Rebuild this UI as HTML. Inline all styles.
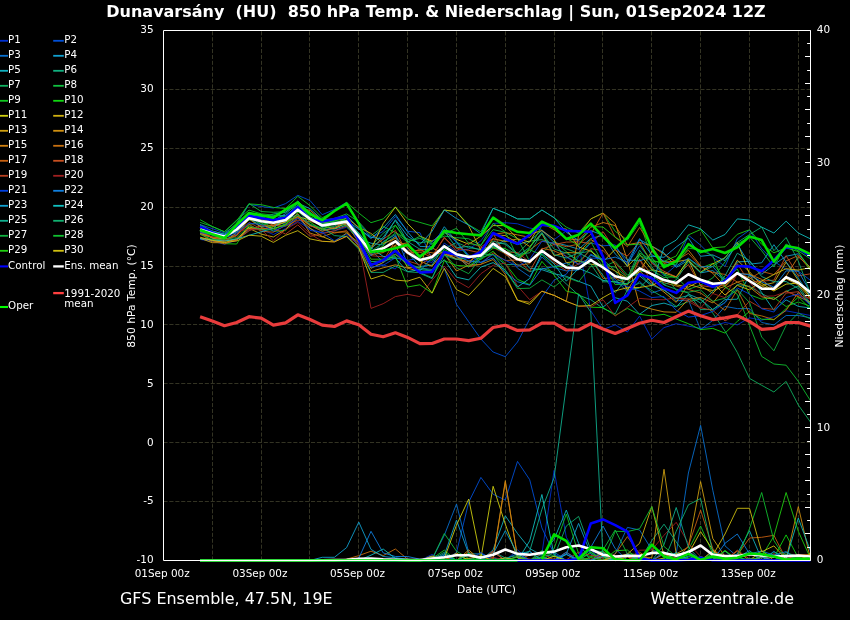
<!DOCTYPE html>
<html lang="de"><head><meta charset="utf-8"><title>GFS Ensemble Dunavarsány</title>
<style>html,body{margin:0;padding:0;background:#000;overflow:hidden}svg{display:block;will-change:transform}text{font-family:"DejaVu Sans","Liberation Sans",sans-serif;fill:#fff}.lg{font-size:10.3px}.tk{font-size:10.45px}.ax{font-size:10.45px}.ay{font-size:10.75px}.ttl{font-size:16px;font-weight:bold}.ft{font-size:15.95px}.m{fill:none;stroke-width:.88;stroke-linejoin:round}.k{fill:none;stroke-width:2.6;stroke-linejoin:round;stroke-linecap:butt}.g{stroke:#333323;stroke-width:1;stroke-dasharray:4.1 1.8;fill:none}</style></head><body>
<svg width="850" height="620" viewBox="0 0 850 620">
<rect width="850" height="620" fill="#000"/>
<g class="g">
<line x1="212.5" y1="560.5" x2="212.5" y2="30.4"/>
<line x1="261.5" y1="560.5" x2="261.5" y2="30.4"/>
<line x1="309.5" y1="560.5" x2="309.5" y2="30.4"/>
<line x1="358.5" y1="560.5" x2="358.5" y2="30.4"/>
<line x1="407.5" y1="560.5" x2="407.5" y2="30.4"/>
<line x1="456.5" y1="560.5" x2="456.5" y2="30.4"/>
<line x1="505.5" y1="560.5" x2="505.5" y2="30.4"/>
<line x1="554.5" y1="560.5" x2="554.5" y2="30.4"/>
<line x1="602.5" y1="560.5" x2="602.5" y2="30.4"/>
<line x1="651.5" y1="560.5" x2="651.5" y2="30.4"/>
<line x1="700.5" y1="560.5" x2="700.5" y2="30.4"/>
<line x1="749.5" y1="560.5" x2="749.5" y2="30.4"/>
<line x1="798.5" y1="560.5" x2="798.5" y2="30.4"/>
<line x1="163.5" y1="501.5" x2="810.5" y2="501.5"/>
<line x1="163.5" y1="442.5" x2="810.5" y2="442.5"/>
<line x1="163.5" y1="383.5" x2="810.5" y2="383.5"/>
<line x1="163.5" y1="324.5" x2="810.5" y2="324.5"/>
<line x1="163.5" y1="266.5" x2="810.5" y2="266.5"/>
<line x1="163.5" y1="207.5" x2="810.5" y2="207.5"/>
<line x1="163.5" y1="148.5" x2="810.5" y2="148.5"/>
<line x1="163.5" y1="89.5" x2="810.5" y2="89.5"/>
</g>
<defs><clipPath id="c"><rect x="163.5" y="30.4" width="647.0" height="532.1"/></clipPath></defs>
<g clip-path="url(#c)">
<g class="m">
<polyline stroke="#0030d0" points="200.1,239.4 212.3,241.3 224.5,244.3 236.7,240.3 249.0,229.7 261.2,229.3 273.4,234.5 285.6,228.6 297.8,221.4 310.0,228.9 322.2,232.7 334.4,230.9 346.6,227.2 358.8,239.3 371.0,264.2 383.2,264.8 395.4,269.0 407.6,248.2 419.9,260.1 432.1,262.4 444.3,243.1 456.5,251.4 468.7,249.1 480.9,240.9 493.1,223.5 505.3,222.7 517.5,223.8 529.7,228.1 541.9,229.9 554.1,239.6 566.3,230.9 578.6,243.1 590.8,310.8 603.0,329.6 615.2,324.9 627.4,332.0 639.6,316.1 651.8,339.0 664.0,327.6 676.2,323.7 688.4,326.1 700.6,328.4 712.8,326.1 725.0,322.5 737.3,324.9 749.5,317.8 761.7,320.2 773.9,316.7 786.1,310.8 798.3,313.1 810.5,315.5"/>
<polyline stroke="#0050d8" points="200.1,224.6 212.3,228.6 224.5,233.0 236.7,224.3 249.0,204.3 261.2,206.5 273.4,208.0 285.6,203.6 297.8,195.3 310.0,200.5 322.2,214.7 334.4,209.5 346.6,202.4 358.8,222.6 371.0,237.7 383.2,231.4 395.4,216.5 407.6,231.2 419.9,232.7 432.1,258.9 444.3,268.4 456.5,304.3 468.7,321.7 480.9,339.0 493.1,352.0 505.3,356.7 517.5,342.0 529.7,319.0 541.9,297.1 554.1,280.1 566.3,274.2 578.6,256.6 590.8,243.0 603.0,245.8 615.2,244.9 627.4,264.1 639.6,245.8 651.8,261.3 664.0,275.8 676.2,265.3 688.4,235.2 700.6,245.2 712.8,257.3 725.0,266.4 737.3,238.9 749.5,230.1 761.7,248.8 773.9,261.3 786.1,269.4 798.3,271.1 810.5,280.4"/>
<polyline stroke="#0870d0" points="200.1,226.6 212.3,232.8 224.5,237.4 236.7,234.4 249.0,217.8 261.2,227.0 273.4,225.5 285.6,222.8 297.8,210.2 310.0,224.9 322.2,231.1 334.4,227.3 346.6,223.7 358.8,236.7 371.0,249.4 383.2,262.6 395.4,254.7 407.6,263.6 419.9,267.9 432.1,269.6 444.3,254.0 456.5,258.7 468.7,263.7 480.9,255.9 493.1,246.0 505.3,252.4 517.5,268.2 529.7,276.6 541.9,257.0 554.1,267.6 566.3,270.9 578.6,270.0 590.8,254.2 603.0,260.7 615.2,279.5 627.4,291.7 639.6,281.4 651.8,293.0 664.0,289.0 676.2,300.8 688.4,300.1 700.6,329.6 712.8,320.4 725.0,306.4 737.3,308.6 749.5,308.6 761.7,322.5 773.9,324.9 786.1,315.5 798.3,315.5 810.5,317.8"/>
<polyline stroke="#10a0d0" points="200.1,225.9 212.3,231.0 224.5,234.7 236.7,226.6 249.0,213.2 261.2,221.4 273.4,220.6 285.6,213.7 297.8,203.1 310.0,208.7 322.2,219.6 334.4,220.9 346.6,215.4 358.8,228.5 371.0,238.5 383.2,227.9 395.4,214.5 407.6,231.8 419.9,246.4 432.1,246.9 444.3,226.7 456.5,241.4 468.7,256.1 480.9,254.7 493.1,246.8 505.3,239.9 517.5,244.6 529.7,240.9 541.9,230.5 554.1,242.4 566.3,245.4 578.6,249.2 590.8,238.5 603.0,235.3 615.2,253.9 627.4,265.7 639.6,239.7 651.8,246.1 664.0,252.8 676.2,267.4 688.4,260.3 700.6,272.9 712.8,270.6 725.0,280.9 737.3,261.9 749.5,261.3 761.7,274.3 773.9,264.7 786.1,256.2 798.3,253.8 810.5,268.1"/>
<polyline stroke="#10b0c0" points="200.1,234.0 212.3,237.1 224.5,237.0 236.7,229.2 249.0,218.3 261.2,215.8 273.4,223.7 285.6,219.4 297.8,214.6 310.0,225.2 322.2,229.1 334.4,229.1 346.6,225.3 358.8,238.4 371.0,243.2 383.2,245.0 395.4,236.1 407.6,252.5 419.9,266.5 432.1,265.1 444.3,245.8 456.5,255.7 468.7,267.1 480.9,258.9 493.1,244.1 505.3,243.0 517.5,253.4 529.7,268.3 541.9,269.7 554.1,273.8 566.3,276.3 578.6,281.3 590.8,286.0 603.0,307.1 615.2,297.7 627.4,301.2 639.6,314.3 651.8,305.5 664.0,303.1 676.2,307.0 688.4,294.1 700.6,299.3 712.8,309.6 725.0,299.6 737.3,299.2 749.5,274.7 761.7,292.5 773.9,310.4 786.1,299.9 798.3,306.4 810.5,308.0"/>
<polyline stroke="#10b080" points="200.1,230.4 212.3,238.6 224.5,238.7 236.7,229.0 249.0,217.9 261.2,226.7 273.4,219.8 285.6,216.1 297.8,205.6 310.0,216.9 322.2,222.6 334.4,225.1 346.6,224.3 358.8,242.0 371.0,261.7 383.2,260.8 395.4,258.0 407.6,260.2 419.9,273.2 432.1,278.6 444.3,248.9 456.5,242.5 468.7,257.4 480.9,254.0 493.1,254.6 505.3,264.7 517.5,264.4 529.7,271.7 541.9,268.1 554.1,272.4 566.3,283.9 578.6,295.2 590.8,299.7 603.0,308.4 615.2,313.9 627.4,289.9 639.6,288.0 651.8,275.2 664.0,284.9 676.2,289.2 688.4,293.1 700.6,309.6 712.8,309.5 725.0,302.5 737.3,284.4 749.5,286.4 761.7,293.7 773.9,299.6 786.1,291.5 798.3,285.9 810.5,303.6"/>
<polyline stroke="#10b060" points="200.1,233.6 212.3,233.8 224.5,236.9 236.7,228.8 249.0,220.1 261.2,220.2 273.4,216.5 285.6,210.3 297.8,204.1 310.0,212.3 322.2,223.5 334.4,220.5 346.6,218.3 358.8,233.4 371.0,246.4 383.2,233.2 395.4,225.2 407.6,241.5 419.9,238.3 432.1,244.5 444.3,229.8 456.5,242.3 468.7,247.8 480.9,249.3 493.1,246.4 505.3,248.9 517.5,254.0 529.7,241.1 541.9,239.6 554.1,244.2 566.3,248.8 578.6,253.3 590.8,251.1 603.0,259.6 615.2,270.8 627.4,288.4 639.6,283.1 651.8,290.5 664.0,297.7 676.2,306.4 688.4,301.6 700.6,299.0 712.8,313.1 725.0,331.1 737.3,352.5 749.5,378.4 761.7,385.3 773.9,392.0 786.1,381.4 798.3,405.0 810.5,422.1"/>
<polyline stroke="#10c040" points="200.1,226.9 212.3,231.1 224.5,234.0 236.7,223.1 249.0,203.5 261.2,211.5 273.4,212.3 285.6,211.7 297.8,205.6 310.0,212.3 322.2,220.1 334.4,218.5 346.6,213.9 358.8,221.9 371.0,235.7 383.2,226.5 395.4,232.5 407.6,239.1 419.9,242.8 432.1,241.1 444.3,236.1 456.5,237.6 468.7,238.8 480.9,245.2 493.1,229.6 505.3,232.3 517.5,238.7 529.7,261.3 541.9,253.4 554.1,241.2 566.3,251.6 578.6,261.9 590.8,249.5 603.0,266.9 615.2,261.5 627.4,275.1 639.6,271.6 651.8,270.1 664.0,277.5 676.2,276.5 688.4,289.3 700.6,285.1 712.8,277.9 725.0,262.0 737.3,244.1 749.5,236.9 761.7,250.8 773.9,266.9 786.1,244.0 798.3,250.9 810.5,258.9"/>
<polyline stroke="#10c820" points="200.1,219.7 212.3,226.5 224.5,231.8 236.7,220.8 249.0,203.9 261.2,204.7 273.4,207.4 285.6,208.6 297.8,196.3 310.0,205.6 322.2,217.8 334.4,211.4 346.6,202.4 358.8,213.0 371.0,222.7 383.2,218.9 395.4,207.1 407.6,218.9 419.9,222.4 432.1,225.9 444.3,210.0 456.5,211.8 468.7,224.8 480.9,231.8 493.1,208.3 505.3,213.0 517.5,218.9 529.7,218.9 541.9,210.0 554.1,217.7 566.3,227.1 578.6,233.0 590.8,218.9 603.0,213.0 615.2,231.3 627.4,240.1 639.6,222.5 651.8,257.4 664.0,274.7 676.2,278.0 688.4,258.6 700.6,268.2 712.8,263.3 725.0,279.1 737.3,269.0 749.5,294.7 761.7,299.2 773.9,297.5 786.1,306.5 798.3,302.0 810.5,306.2"/>
<polyline stroke="#10d810" points="200.1,233.2 212.3,240.6 224.5,243.7 236.7,244.0 249.0,224.4 261.2,222.6 273.4,231.3 285.6,230.6 297.8,212.0 310.0,219.1 322.2,221.3 334.4,220.6 346.6,218.8 358.8,234.8 371.0,252.4 383.2,246.0 395.4,225.2 407.6,243.2 419.9,259.1 432.1,260.1 444.3,249.6 456.5,255.5 468.7,255.7 480.9,259.5 493.1,251.2 505.3,263.7 517.5,279.4 529.7,284.7 541.9,261.4 554.1,275.2 566.3,291.1 578.6,293.9 590.8,307.2 603.0,307.6 615.2,315.4 627.4,308.4 639.6,314.3 651.8,315.9 664.0,314.3 676.2,319.0 688.4,323.7 700.6,329.6 712.8,328.4 725.0,333.1 737.3,321.4 749.5,311.5 761.7,319.2 773.9,319.7 786.1,308.6 798.3,297.1 810.5,308.8"/>
<polyline stroke="#d0d010" points="200.1,231.2 212.3,237.7 224.5,240.8 236.7,239.9 249.0,227.0 261.2,229.8 273.4,226.6 285.6,221.9 297.8,216.6 310.0,220.0 322.2,225.8 334.4,228.6 346.6,222.9 358.8,238.6 371.0,249.2 383.2,223.6 395.4,207.1 407.6,223.6 419.9,236.2 432.1,241.3 444.3,232.2 456.5,239.3 468.7,244.2 480.9,236.1 493.1,225.6 505.3,225.6 517.5,238.8 529.7,242.1 541.9,221.5 554.1,228.2 566.3,229.1 578.6,247.0 590.8,251.1 603.0,261.8 615.2,249.3 627.4,266.4 639.6,254.3 651.8,269.6 664.0,272.9 676.2,276.8 688.4,260.1 700.6,272.2 712.8,263.9 725.0,257.7 737.3,242.1 749.5,274.1 761.7,283.3 773.9,291.0 786.1,284.1 798.3,283.1 810.5,297.0"/>
<polyline stroke="#d0b010" points="200.1,238.3 212.3,242.7 224.5,242.7 236.7,238.7 249.0,228.3 261.2,234.1 273.4,237.0 285.6,229.4 297.8,217.8 310.0,228.0 322.2,236.5 334.4,241.5 346.6,233.1 358.8,242.8 371.0,268.3 383.2,262.5 395.4,245.5 407.6,267.5 419.9,268.0 432.1,228.3 444.3,210.0 456.5,211.8 468.7,225.9 480.9,250.4 493.1,234.7 505.3,235.6 517.5,242.8 529.7,234.4 541.9,230.5 554.1,239.5 566.3,262.7 578.6,261.0 590.8,264.3 603.0,265.0 615.2,271.0 627.4,278.6 639.6,271.7 651.8,251.2 664.0,262.0 676.2,261.7 688.4,259.6 700.6,285.9 712.8,293.2 725.0,281.3 737.3,260.2 749.5,271.8 761.7,285.5 773.9,282.7 786.1,262.1 798.3,280.4 810.5,297.3"/>
<polyline stroke="#d0a010" points="200.1,233.4 212.3,237.3 224.5,239.2 236.7,235.5 249.0,219.0 261.2,227.3 273.4,225.2 285.6,221.9 297.8,209.0 310.0,219.0 322.2,222.6 334.4,224.2 346.6,217.9 358.8,227.3 371.0,233.4 383.2,243.5 395.4,238.4 407.6,247.6 419.9,261.0 432.1,266.1 444.3,251.5 456.5,259.5 468.7,255.4 480.9,256.7 493.1,238.7 505.3,241.5 517.5,238.9 529.7,246.5 541.9,233.8 554.1,255.7 566.3,252.5 578.6,253.0 590.8,239.5 603.0,247.1 615.2,264.8 627.4,290.3 639.6,271.0 651.8,282.6 664.0,292.1 676.2,302.3 688.4,284.4 700.6,287.8 712.8,290.6 725.0,286.3 737.3,274.3 749.5,277.7 761.7,286.0 773.9,290.8 786.1,278.8 798.3,285.0 810.5,298.8"/>
<polyline stroke="#d09010" points="200.1,238.5 212.3,240.0 224.5,240.3 236.7,240.0 249.0,228.7 261.2,228.6 273.4,228.7 285.6,224.4 297.8,213.7 310.0,233.1 322.2,236.9 334.4,232.3 346.6,231.9 358.8,246.4 371.0,271.6 383.2,267.8 395.4,264.8 407.6,268.1 419.9,271.7 432.1,271.8 444.3,253.7 456.5,271.0 468.7,265.1 480.9,264.3 493.1,259.5 505.3,274.3 517.5,300.2 529.7,302.3 541.9,291.2 554.1,295.4 566.3,301.3 578.6,235.4 590.8,218.9 603.0,213.0 615.2,223.6 627.4,260.1 639.6,305.4 651.8,309.1 664.0,311.9 676.2,312.3 688.4,299.3 700.6,297.5 712.8,302.9 725.0,288.0 737.3,282.2 749.5,287.1 761.7,296.8 773.9,299.3 786.1,290.9 798.3,296.7 810.5,302.2"/>
<polyline stroke="#d08010" points="200.1,232.1 212.3,237.8 224.5,241.7 236.7,232.7 249.0,217.7 261.2,219.3 273.4,225.3 285.6,220.1 297.8,208.2 310.0,210.3 322.2,220.5 334.4,219.1 346.6,216.2 358.8,240.3 371.0,254.7 383.2,252.6 395.4,245.1 407.6,242.8 419.9,257.8 432.1,248.0 444.3,253.7 456.5,259.2 468.7,261.6 480.9,253.8 493.1,234.4 505.3,232.6 517.5,234.9 529.7,237.4 541.9,223.0 554.1,229.7 566.3,238.8 578.6,239.9 590.8,227.3 603.0,222.5 615.2,225.6 627.4,244.8 639.6,242.4 651.8,246.1 664.0,254.2 676.2,261.9 688.4,250.1 700.6,265.8 712.8,273.3 725.0,286.5 737.3,273.6 749.5,274.2 761.7,279.4 773.9,289.7 786.1,276.1 798.3,256.8 810.5,267.3"/>
<polyline stroke="#c87010" points="200.1,234.4 212.3,237.2 224.5,237.7 236.7,228.6 249.0,217.4 261.2,219.0 273.4,222.5 285.6,221.1 297.8,216.4 310.0,225.3 322.2,231.3 334.4,227.7 346.6,221.3 358.8,236.9 371.0,253.0 383.2,249.3 395.4,237.1 407.6,251.0 419.9,250.6 432.1,252.8 444.3,254.2 456.5,256.4 468.7,264.0 480.9,247.7 493.1,247.4 505.3,253.7 517.5,265.4 529.7,263.7 541.9,248.3 554.1,250.8 566.3,256.3 578.6,264.2 590.8,257.8 603.0,278.4 615.2,277.8 627.4,285.1 639.6,259.7 651.8,274.3 664.0,282.7 676.2,286.0 688.4,289.4 700.6,293.0 712.8,301.4 725.0,310.3 737.3,289.7 749.5,313.5 761.7,315.9 773.9,319.7 786.1,310.3 798.3,292.4 810.5,304.5"/>
<polyline stroke="#c86010" points="200.1,233.3 212.3,242.0 224.5,241.3 236.7,234.9 249.0,224.4 261.2,231.2 273.4,232.2 285.6,225.2 297.8,216.8 310.0,225.8 322.2,228.7 334.4,233.1 346.6,230.6 358.8,246.1 371.0,265.1 383.2,260.8 395.4,240.7 407.6,253.2 419.9,252.1 432.1,257.3 444.3,246.0 456.5,256.6 468.7,266.5 480.9,264.4 493.1,252.7 505.3,260.5 517.5,260.0 529.7,249.9 541.9,241.1 554.1,243.3 566.3,246.7 578.6,244.1 590.8,234.3 603.0,213.0 615.2,237.3 627.4,246.7 639.6,227.4 651.8,247.0 664.0,263.5 676.2,260.5 688.4,253.3 700.6,266.6 712.8,272.5 725.0,274.4 737.3,282.0 749.5,279.0 761.7,271.4 773.9,274.6 786.1,260.9 798.3,255.5 810.5,269.8"/>
<polyline stroke="#c85020" points="200.1,238.0 212.3,240.4 224.5,243.8 236.7,239.9 249.0,230.8 261.2,225.4 273.4,225.3 285.6,226.2 297.8,220.1 310.0,221.6 322.2,223.1 334.4,224.2 346.6,224.8 358.8,241.9 371.0,247.6 383.2,239.3 395.4,230.4 407.6,254.4 419.9,249.1 432.1,256.0 444.3,238.1 456.5,248.5 468.7,250.3 480.9,253.0 493.1,233.6 505.3,254.6 517.5,259.0 529.7,271.4 541.9,249.1 554.1,244.5 566.3,242.1 578.6,241.8 590.8,243.6 603.0,231.6 615.2,250.0 627.4,256.0 639.6,241.9 651.8,263.2 664.0,271.3 676.2,276.9 688.4,264.5 700.6,285.5 712.8,287.2 725.0,284.9 737.3,263.7 749.5,282.6 761.7,281.0 773.9,280.2 786.1,255.7 798.3,275.9 810.5,273.8"/>
<polyline stroke="#b84020" points="200.1,231.4 212.3,237.0 224.5,240.8 236.7,235.8 249.0,222.4 261.2,229.0 273.4,228.4 285.6,234.1 297.8,224.9 310.0,236.4 322.2,233.7 334.4,230.7 346.6,226.0 358.8,238.4 371.0,255.6 383.2,256.9 395.4,254.5 407.6,260.8 419.9,264.9 432.1,256.8 444.3,237.1 456.5,251.0 468.7,242.3 480.9,247.0 493.1,238.5 505.3,252.1 517.5,252.5 529.7,262.3 541.9,250.9 554.1,262.6 566.3,270.6 578.6,263.9 590.8,248.6 603.0,250.6 615.2,262.7 627.4,277.4 639.6,259.1 651.8,283.8 664.0,290.3 676.2,298.3 688.4,298.9 700.6,307.7 712.8,310.4 725.0,320.9 737.3,314.6 749.5,301.2 761.7,308.3 773.9,309.3 786.1,293.1 798.3,291.7 810.5,299.4"/>
<polyline stroke="#a02020" points="200.1,226.9 212.3,234.0 224.5,236.3 236.7,230.7 249.0,229.7 261.2,229.6 273.4,240.8 285.6,229.5 297.8,222.4 310.0,233.8 322.2,241.3 334.4,241.9 346.6,236.6 358.8,243.6 371.0,308.4 383.2,303.7 395.4,296.6 407.6,294.3 419.9,296.6 432.1,280.1 444.3,266.0 456.5,280.8 468.7,287.7 480.9,273.7 493.1,265.3 505.3,263.1 517.5,285.9 529.7,299.7 541.9,291.2 554.1,295.4 566.3,301.3 578.6,306.1 590.8,307.2 603.0,299.6 615.2,316.1 627.4,307.4 639.6,298.4 651.8,299.4 664.0,299.8 676.2,297.5 688.4,301.5 700.6,308.2 712.8,293.5 725.0,297.7 737.3,273.4 749.5,282.2 761.7,296.2 773.9,296.0 786.1,291.9 798.3,295.5 810.5,298.5"/>
<polyline stroke="#0040e0" points="200.1,232.4 212.3,235.0 224.5,235.7 236.7,232.8 249.0,223.1 261.2,224.5 273.4,231.2 285.6,225.8 297.8,218.0 310.0,230.3 322.2,232.7 334.4,240.8 346.6,234.2 358.8,244.7 371.0,267.3 383.2,265.4 395.4,257.8 407.6,260.3 419.9,258.2 432.1,242.1 444.3,229.5 456.5,242.6 468.7,254.9 480.9,262.4 493.1,254.5 505.3,260.2 517.5,266.4 529.7,259.3 541.9,241.3 554.1,243.2 566.3,257.1 578.6,264.3 590.8,258.1 603.0,258.7 615.2,282.5 627.4,286.5 639.6,291.1 651.8,297.6 664.0,296.5 676.2,310.4 688.4,317.1 700.6,315.6 712.8,311.4 725.0,302.6 737.3,287.9 749.5,294.1 761.7,308.8 773.9,312.0 786.1,297.5 798.3,294.0 810.5,305.4"/>
<polyline stroke="#1080e0" points="200.1,226.5 212.3,231.5 224.5,236.5 236.7,232.0 249.0,217.6 261.2,221.2 273.4,222.5 285.6,221.3 297.8,208.8 310.0,218.6 322.2,225.1 334.4,223.4 346.6,222.3 358.8,239.3 371.0,255.8 383.2,241.5 395.4,234.6 407.6,263.8 419.9,270.9 432.1,258.0 444.3,247.0 456.5,256.4 468.7,260.8 480.9,262.4 493.1,257.9 505.3,272.4 517.5,281.7 529.7,285.2 541.9,268.9 554.1,266.7 566.3,263.0 578.6,269.6 590.8,255.3 603.0,259.9 615.2,257.1 627.4,262.2 639.6,238.6 651.8,254.8 664.0,261.1 676.2,266.1 688.4,258.2 700.6,266.9 712.8,266.6 725.0,280.7 737.3,273.3 749.5,274.8 761.7,281.8 773.9,287.1 786.1,270.9 798.3,271.1 810.5,292.5"/>
<polyline stroke="#10a0d0" points="200.1,224.6 212.3,231.5 224.5,234.3 236.7,227.1 249.0,214.8 261.2,216.4 273.4,215.9 285.6,215.5 297.8,205.6 310.0,218.4 322.2,226.8 334.4,224.0 346.6,220.4 358.8,229.1 371.0,237.2 383.2,239.2 395.4,219.7 407.6,236.0 419.9,244.5 432.1,231.2 444.3,210.0 456.5,218.6 468.7,225.0 480.9,233.9 493.1,208.3 505.3,213.0 517.5,218.9 529.7,218.9 541.9,210.0 554.1,217.7 566.3,232.2 578.6,240.5 590.8,230.6 603.0,235.3 615.2,247.5 627.4,259.8 639.6,260.9 651.8,256.2 664.0,257.3 676.2,247.0 688.4,238.1 700.6,256.3 712.8,254.9 725.0,260.6 737.3,244.2 749.5,264.2 761.7,262.8 773.9,244.7 786.1,262.0 798.3,278.1 810.5,296.5"/>
<polyline stroke="#10c0c0" points="200.1,238.6 212.3,240.0 224.5,241.0 236.7,238.8 249.0,235.3 261.2,231.8 273.4,228.3 285.6,216.9 297.8,207.7 310.0,213.3 322.2,224.8 334.4,222.8 346.6,221.5 358.8,233.2 371.0,247.7 383.2,256.4 395.4,258.1 407.6,271.7 419.9,269.6 432.1,270.8 444.3,259.7 456.5,277.2 468.7,279.9 480.9,267.1 493.1,262.6 505.3,270.1 517.5,287.0 529.7,278.5 541.9,253.6 554.1,263.9 566.3,281.2 578.6,268.4 590.8,273.2 603.0,280.4 615.2,282.0 627.4,283.9 639.6,275.8 651.8,286.0 664.0,247.2 676.2,240.1 688.4,224.8 700.6,228.8 712.8,240.1 725.0,234.5 737.3,218.9 749.5,220.1 761.7,227.1 773.9,233.0 786.1,221.2 798.3,233.0 810.5,238.9"/>
<polyline stroke="#10b090" points="200.1,226.6 212.3,233.3 224.5,235.6 236.7,225.6 249.0,215.0 261.2,217.8 273.4,214.0 285.6,212.4 297.8,201.0 310.0,212.7 322.2,224.0 334.4,222.2 346.6,220.1 358.8,233.3 371.0,249.0 383.2,237.1 395.4,220.6 407.6,241.5 419.9,249.2 432.1,249.6 444.3,231.2 456.5,247.8 468.7,246.3 480.9,250.2 493.1,246.8 505.3,252.9 517.5,255.9 529.7,247.4 541.9,232.4 554.1,254.7 566.3,258.0 578.6,252.8 590.8,259.2 603.0,275.4 615.2,292.6 627.4,277.5 639.6,273.7 651.8,284.9 664.0,290.1 676.2,298.6 688.4,295.5 700.6,303.1 712.8,291.4 725.0,275.9 737.3,253.2 749.5,260.5 761.7,276.6 773.9,281.8 786.1,281.5 798.3,288.5 810.5,304.8"/>
<polyline stroke="#10b070" points="200.1,230.9 212.3,233.4 224.5,236.3 236.7,231.0 249.0,217.0 261.2,224.5 273.4,221.9 285.6,217.0 297.8,206.3 310.0,217.5 322.2,227.4 334.4,235.6 346.6,236.6 358.8,249.2 371.0,272.4 383.2,272.4 395.4,266.0 407.6,271.8 419.9,272.6 432.1,277.7 444.3,255.3 456.5,259.6 468.7,257.4 480.9,254.0 493.1,241.1 505.3,244.3 517.5,254.5 529.7,252.8 541.9,233.0 554.1,249.0 566.3,253.1 578.6,260.9 590.8,264.2 603.0,281.9 615.2,281.6 627.4,278.3 639.6,250.2 651.8,266.6 664.0,284.5 676.2,279.9 688.4,261.7 700.6,272.5 712.8,266.3 725.0,257.9 737.3,242.5 749.5,234.6 761.7,227.1 773.9,250.7 786.1,237.5 798.3,261.1 810.5,293.9"/>
<polyline stroke="#10b040" points="200.1,234.4 212.3,239.6 224.5,239.2 236.7,237.6 249.0,225.9 261.2,229.5 273.4,230.0 285.6,223.5 297.8,215.3 310.0,224.2 322.2,228.2 334.4,226.3 346.6,217.2 358.8,238.5 371.0,263.9 383.2,261.0 395.4,253.9 407.6,265.3 419.9,267.6 432.1,271.1 444.3,253.5 456.5,267.7 468.7,273.7 480.9,257.4 493.1,254.2 505.3,270.3 517.5,288.6 529.7,288.2 541.9,279.9 554.1,287.0 566.3,277.4 578.6,281.8 590.8,266.4 603.0,264.9 615.2,267.2 627.4,277.5 639.6,255.6 651.8,260.5 664.0,274.0 676.2,290.2 688.4,292.2 700.6,290.0 712.8,301.3 725.0,298.2 737.3,289.6 749.5,302.5 761.7,337.0 773.9,350.8 786.1,325.4 798.3,313.1 810.5,319.0"/>
<polyline stroke="#10c030" points="200.1,222.4 212.3,226.5 224.5,231.8 236.7,220.1 249.0,210.1 261.2,213.8 273.4,215.1 285.6,216.6 297.8,205.3 310.0,216.8 322.2,223.3 334.4,221.4 346.6,226.2 358.8,239.2 371.0,251.4 383.2,242.6 395.4,233.0 407.6,242.2 419.9,236.4 432.1,243.6 444.3,233.9 456.5,228.3 468.7,243.4 480.9,245.6 493.1,223.4 505.3,231.8 517.5,257.2 529.7,249.9 541.9,254.7 554.1,267.0 566.3,266.1 578.6,255.2 590.8,241.8 603.0,263.3 615.2,284.6 627.4,284.0 639.6,253.1 651.8,259.8 664.0,264.5 676.2,264.3 688.4,248.1 700.6,250.0 712.8,255.8 725.0,287.2 737.3,294.3 749.5,325.4 761.7,356.4 773.9,364.0 786.1,365.2 798.3,381.4 810.5,400.8"/>
<polyline stroke="#20d010" points="200.1,224.8 212.3,231.3 224.5,235.9 236.7,228.1 249.0,214.5 261.2,220.7 273.4,228.5 285.6,225.1 297.8,208.1 310.0,222.1 322.2,230.0 334.4,222.8 346.6,220.7 358.8,236.9 371.0,259.2 383.2,259.2 395.4,256.4 407.6,287.0 419.9,284.8 432.1,293.1 444.3,260.6 456.5,265.4 468.7,266.2 480.9,256.9 493.1,248.2 505.3,248.3 517.5,259.4 529.7,248.4 541.9,225.4 554.1,226.8 566.3,238.1 578.6,245.5 590.8,226.4 603.0,227.1 615.2,237.2 627.4,245.0 639.6,244.0 651.8,261.9 664.0,261.4 676.2,256.0 688.4,234.9 700.6,229.5 712.8,247.8 725.0,246.8 737.3,234.3 749.5,229.8 761.7,244.3 773.9,252.8 786.1,247.9 798.3,251.6 810.5,270.5"/>
<polyline stroke="#d0c010" points="200.1,237.2 212.3,240.4 224.5,242.4 236.7,241.0 249.0,235.2 261.2,236.2 273.4,242.4 285.6,235.3 297.8,230.7 310.0,238.9 322.2,241.3 334.4,241.9 346.6,236.2 358.8,247.9 371.0,279.0 383.2,275.1 395.4,280.1 407.6,281.1 419.9,277.2 432.1,293.1 444.3,268.4 456.5,289.6 468.7,295.4 480.9,282.5 493.1,268.4 505.3,276.6 517.5,300.2 529.7,304.3 541.9,291.2 554.1,295.4 566.3,301.3 578.6,306.1 590.8,305.5 603.0,297.6 615.2,290.8 627.4,287.7 639.6,287.5 651.8,285.4 664.0,279.9 676.2,284.8 688.4,287.2 700.6,280.6 712.8,282.8 725.0,295.0 737.3,285.4 749.5,289.9 761.7,280.9 773.9,274.5 786.1,268.7 798.3,270.1 810.5,267.5"/>
</g>
<g class="m">
<polyline stroke="#0030d0" points="200.1,560.5 212.3,560.5 224.5,560.5 236.7,560.5 249.0,560.5 261.2,560.5 273.4,560.5 285.6,560.5 297.8,560.5 310.0,560.5 322.2,560.5 334.4,560.5 346.6,560.5 358.8,560.5 371.0,560.5 383.2,560.5 395.4,560.5 407.6,560.5 419.9,560.5 432.1,554.4 444.3,560.5 456.5,560.5 468.7,560.5 480.9,559.7 493.1,560.5 505.3,560.5 517.5,549.9 529.7,560.5 541.9,553.9 554.1,470.4 566.3,537.2 578.6,557.8 590.8,560.5 603.0,560.5 615.2,560.5 627.4,553.5 639.6,560.5 651.8,560.5 664.0,560.5 676.2,560.5 688.4,552.3 700.6,560.5 712.8,560.5 725.0,551.2 737.3,560.5 749.5,560.5 761.7,560.5 773.9,560.5 786.1,560.5 798.3,560.5 810.5,560.5"/>
<polyline stroke="#0050d8" points="200.1,560.5 212.3,560.5 224.5,560.5 236.7,560.5 249.0,560.5 261.2,560.5 273.4,560.5 285.6,560.5 297.8,560.5 310.0,560.5 322.2,560.5 334.4,560.5 346.6,560.5 358.8,560.5 371.0,560.5 383.2,560.5 395.4,560.5 407.6,560.5 419.9,560.5 432.1,560.5 444.3,560.5 456.5,552.5 468.7,502.2 480.9,477.4 493.1,494.2 505.3,500.1 517.5,461.4 529.7,479.7 541.9,527.9 554.1,553.9 566.3,560.5 578.6,558.5 590.8,550.2 603.0,560.5 615.2,560.5 627.4,560.5 639.6,560.5 651.8,560.5 664.0,560.5 676.2,560.5 688.4,560.5 700.6,560.5 712.8,560.5 725.0,560.5 737.3,560.5 749.5,560.5 761.7,560.5 773.9,551.3 786.1,560.5 798.3,560.5 810.5,560.5"/>
<polyline stroke="#0870d0" points="200.1,560.5 212.3,560.5 224.5,560.5 236.7,560.5 249.0,560.5 261.2,560.5 273.4,560.5 285.6,560.5 297.8,560.5 310.0,560.5 322.2,560.5 334.4,560.5 346.6,560.5 358.8,560.5 371.0,560.5 383.2,560.5 395.4,560.5 407.6,560.5 419.9,560.5 432.1,559.2 444.3,535.3 456.5,504.0 468.7,552.5 480.9,560.5 493.1,551.6 505.3,560.5 517.5,560.5 529.7,551.3 541.9,560.5 554.1,551.9 566.3,560.5 578.6,556.9 590.8,560.5 603.0,560.5 615.2,553.9 627.4,527.4 639.6,530.0 651.8,549.9 664.0,553.7 676.2,553.9 688.4,473.0 700.6,425.3 712.8,490.3 725.0,545.9 737.3,556.5 749.5,552.7 761.7,560.5 773.9,560.5 786.1,560.5 798.3,560.5 810.5,560.5"/>
<polyline stroke="#10a0d0" points="200.1,560.5 212.3,560.5 224.5,560.5 236.7,560.5 249.0,560.5 261.2,560.5 273.4,560.5 285.6,560.5 297.8,560.5 310.0,560.5 322.2,560.5 334.4,560.5 346.6,560.5 358.8,560.5 371.0,560.5 383.2,560.5 395.4,560.5 407.6,560.5 419.9,560.5 432.1,560.5 444.3,555.2 456.5,520.1 468.7,553.9 480.9,553.9 493.1,557.9 505.3,560.5 517.5,560.5 529.7,559.4 541.9,560.5 554.1,560.5 566.3,553.9 578.6,523.4 590.8,553.9 603.0,560.5 615.2,560.5 627.4,560.5 639.6,560.5 651.8,560.5 664.0,560.5 676.2,560.5 688.4,560.5 700.6,560.5 712.8,560.5 725.0,560.5 737.3,560.5 749.5,560.5 761.7,556.8 773.9,560.5 786.1,560.5 798.3,560.5 810.5,555.7"/>
<polyline stroke="#10b0c0" points="200.1,560.5 212.3,560.5 224.5,560.5 236.7,560.5 249.0,560.5 261.2,560.5 273.4,560.5 285.6,560.5 297.8,560.5 310.0,560.5 322.2,560.5 334.4,560.5 346.6,560.5 358.8,560.5 371.0,560.5 383.2,560.5 395.4,560.5 407.6,560.5 419.9,560.5 432.1,560.5 444.3,553.7 456.5,560.5 468.7,553.6 480.9,560.5 493.1,549.9 505.3,515.8 517.5,533.5 529.7,548.6 541.9,555.2 554.1,539.3 566.3,510.1 578.6,543.3 590.8,560.5 603.0,560.5 615.2,560.5 627.4,560.5 639.6,559.2 651.8,560.5 664.0,560.5 676.2,560.5 688.4,560.5 700.6,560.5 712.8,560.5 725.0,560.5 737.3,553.9 749.5,530.8 761.7,559.2 773.9,560.5 786.1,560.5 798.3,560.5 810.5,560.5"/>
<polyline stroke="#10b080" points="200.1,560.5 212.3,560.5 224.5,560.5 236.7,560.5 249.0,560.5 261.2,560.5 273.4,560.5 285.6,560.5 297.8,560.5 310.0,560.5 322.2,560.5 334.4,560.5 346.6,560.5 358.8,560.5 371.0,560.5 383.2,560.5 395.4,560.5 407.6,560.5 419.9,560.5 432.1,560.5 444.3,560.5 456.5,554.2 468.7,560.5 480.9,560.5 493.1,551.8 505.3,558.0 517.5,560.5 529.7,560.5 541.9,556.6 554.1,560.5 566.3,560.5 578.6,560.5 590.8,560.5 603.0,556.5 615.2,560.5 627.4,560.5 639.6,560.5 651.8,540.6 664.0,524.2 676.2,541.9 688.4,558.6 700.6,560.5 712.8,551.8 725.0,560.5 737.3,557.1 749.5,560.5 761.7,560.5 773.9,560.5 786.1,560.5 798.3,556.9 810.5,560.5"/>
<polyline stroke="#10b060" points="200.1,560.5 212.3,560.5 224.5,560.5 236.7,560.5 249.0,560.5 261.2,560.5 273.4,560.5 285.6,560.5 297.8,560.5 310.0,560.5 322.2,560.5 334.4,560.5 346.6,560.5 358.8,560.5 371.0,560.5 383.2,560.5 395.4,560.5 407.6,560.5 419.9,560.5 432.1,560.5 444.3,560.5 456.5,560.5 468.7,560.5 480.9,560.5 493.1,560.5 505.3,559.8 517.5,560.5 529.7,560.5 541.9,560.5 554.1,560.5 566.3,560.5 578.6,560.5 590.8,552.4 603.0,560.5 615.2,560.5 627.4,560.5 639.6,560.5 651.8,560.5 664.0,559.2 676.2,560.5 688.4,560.5 700.6,560.5 712.8,550.9 725.0,560.5 737.3,560.5 749.5,560.5 761.7,560.5 773.9,560.5 786.1,552.4 798.3,556.9 810.5,560.5"/>
<polyline stroke="#10c040" points="200.1,560.5 212.3,560.5 224.5,560.5 236.7,560.5 249.0,560.5 261.2,560.5 273.4,560.5 285.6,560.5 297.8,560.5 310.0,560.5 322.2,560.5 334.4,560.5 346.6,560.5 358.8,560.5 371.0,560.5 383.2,560.5 395.4,560.5 407.6,560.5 419.9,560.5 432.1,559.2 444.3,533.5 456.5,551.2 468.7,558.5 480.9,560.5 493.1,560.5 505.3,560.5 517.5,560.5 529.7,560.5 541.9,560.5 554.1,560.5 566.3,560.5 578.6,560.5 590.8,560.5 603.0,549.9 615.2,530.0 627.4,553.9 639.6,554.5 651.8,560.5 664.0,552.0 676.2,560.5 688.4,560.5 700.6,560.5 712.8,553.6 725.0,560.5 737.3,557.1 749.5,560.5 761.7,560.5 773.9,560.5 786.1,560.5 798.3,560.5 810.5,559.3"/>
<polyline stroke="#10c820" points="200.1,560.5 212.3,560.5 224.5,560.5 236.7,560.5 249.0,560.5 261.2,560.5 273.4,560.5 285.6,560.5 297.8,560.5 310.0,560.5 322.2,560.5 334.4,560.5 346.6,560.5 358.8,560.5 371.0,560.5 383.2,560.5 395.4,560.5 407.6,560.5 419.9,560.5 432.1,558.6 444.3,550.1 456.5,560.5 468.7,554.8 480.9,560.5 493.1,560.5 505.3,560.5 517.5,560.5 529.7,560.5 541.9,560.5 554.1,548.6 566.3,514.1 578.6,553.9 590.8,556.6 603.0,554.3 615.2,560.5 627.4,560.5 639.6,558.1 651.8,560.5 664.0,560.5 676.2,560.5 688.4,549.9 700.6,526.0 712.8,553.9 725.0,560.5 737.3,560.5 749.5,560.5 761.7,560.5 773.9,560.5 786.1,560.5 798.3,560.5 810.5,560.5"/>
<polyline stroke="#10d810" points="200.1,560.5 212.3,560.5 224.5,560.5 236.7,560.5 249.0,560.5 261.2,560.5 273.4,560.5 285.6,560.5 297.8,560.5 310.0,560.5 322.2,560.5 334.4,560.5 346.6,560.5 358.8,560.5 371.0,560.5 383.2,560.5 395.4,560.5 407.6,560.5 419.9,560.5 432.1,560.5 444.3,560.5 456.5,554.5 468.7,560.5 480.9,555.6 493.1,560.5 505.3,560.5 517.5,560.5 529.7,560.5 541.9,560.5 554.1,560.5 566.3,560.5 578.6,560.5 590.8,551.8 603.0,560.5 615.2,560.5 627.4,560.5 639.6,560.5 651.8,560.5 664.0,560.5 676.2,554.0 688.4,558.4 700.6,560.5 712.8,558.9 725.0,551.1 737.3,559.6 749.5,560.5 761.7,551.4 773.9,557.8 786.1,534.9 798.3,557.8 810.5,560.5"/>
<polyline stroke="#d0d010" points="200.1,560.5 212.3,560.5 224.5,560.5 236.7,560.5 249.0,560.5 261.2,560.5 273.4,560.5 285.6,560.5 297.8,560.5 310.0,560.5 322.2,560.5 334.4,560.5 346.6,560.5 358.8,560.5 371.0,560.5 383.2,560.5 395.4,560.5 407.6,560.5 419.9,560.5 432.1,560.5 444.3,558.5 456.5,525.1 468.7,499.1 480.9,558.5 493.1,486.3 505.3,524.2 517.5,557.8 529.7,560.5 541.9,560.5 554.1,560.5 566.3,552.2 578.6,560.5 590.8,560.5 603.0,552.4 615.2,560.5 627.4,556.6 639.6,560.5 651.8,560.5 664.0,558.1 676.2,553.7 688.4,553.9 700.6,531.6 712.8,549.9 725.0,560.5 737.3,560.5 749.5,560.5 761.7,560.5 773.9,560.5 786.1,560.5 798.3,554.9 810.5,560.5"/>
<polyline stroke="#d0b010" points="200.1,560.5 212.3,560.5 224.5,560.5 236.7,560.5 249.0,560.5 261.2,560.5 273.4,560.5 285.6,560.5 297.8,560.5 310.0,560.5 322.2,560.5 334.4,560.5 346.6,560.5 358.8,560.5 371.0,560.5 383.2,560.5 395.4,560.5 407.6,560.5 419.9,560.5 432.1,560.5 444.3,560.5 456.5,553.0 468.7,560.5 480.9,560.5 493.1,560.5 505.3,560.5 517.5,560.5 529.7,560.5 541.9,558.9 554.1,560.5 566.3,560.5 578.6,560.5 590.8,560.5 603.0,560.5 615.2,557.2 627.4,554.0 639.6,543.3 651.8,506.6 664.0,555.9 676.2,560.5 688.4,553.0 700.6,560.5 712.8,560.5 725.0,560.5 737.3,560.5 749.5,560.5 761.7,560.5 773.9,560.5 786.1,559.6 798.3,560.5 810.5,560.5"/>
<polyline stroke="#d0a010" points="200.1,560.5 212.3,560.5 224.5,560.5 236.7,560.5 249.0,560.5 261.2,560.5 273.4,560.5 285.6,560.5 297.8,560.5 310.0,560.5 322.2,560.5 334.4,560.5 346.6,560.5 358.8,560.5 371.0,560.5 383.2,560.5 395.4,560.5 407.6,560.5 419.9,560.5 432.1,556.3 444.3,560.5 456.5,560.5 468.7,550.0 480.9,560.5 493.1,560.5 505.3,560.5 517.5,560.5 529.7,560.5 541.9,560.5 554.1,560.5 566.3,560.5 578.6,560.5 590.8,560.5 603.0,560.5 615.2,560.5 627.4,560.5 639.6,557.5 651.8,557.8 664.0,469.3 676.2,553.9 688.4,547.2 700.6,481.6 712.8,538.5 725.0,556.5 737.3,560.5 749.5,560.5 761.7,560.5 773.9,560.5 786.1,558.0 798.3,560.5 810.5,552.8"/>
<polyline stroke="#d09010" points="200.1,560.5 212.3,560.5 224.5,560.5 236.7,560.5 249.0,560.5 261.2,560.5 273.4,560.5 285.6,560.5 297.8,560.5 310.0,560.5 322.2,560.5 334.4,560.5 346.6,560.5 358.8,560.5 371.0,560.5 383.2,560.5 395.4,560.5 407.6,560.5 419.9,560.5 432.1,560.5 444.3,560.5 456.5,560.5 468.7,560.5 480.9,560.5 493.1,557.8 505.3,480.6 517.5,557.8 529.7,560.5 541.9,560.5 554.1,558.9 566.3,560.5 578.6,560.5 590.8,560.5 603.0,560.5 615.2,560.5 627.4,556.5 639.6,560.5 651.8,560.5 664.0,554.0 676.2,560.5 688.4,560.5 700.6,560.5 712.8,557.1 725.0,560.5 737.3,551.0 749.5,560.5 761.7,550.5 773.9,560.5 786.1,559.2 798.3,506.6 810.5,559.2"/>
<polyline stroke="#d08010" points="200.1,560.5 212.3,560.5 224.5,560.5 236.7,560.5 249.0,560.5 261.2,560.5 273.4,560.5 285.6,560.5 297.8,560.5 310.0,560.5 322.2,560.5 334.4,560.5 346.6,560.5 358.8,560.5 371.0,560.5 383.2,560.5 395.4,560.5 407.6,560.5 419.9,560.5 432.1,560.5 444.3,560.5 456.5,560.5 468.7,560.5 480.9,560.5 493.1,559.2 505.3,482.3 517.5,556.5 529.7,560.5 541.9,560.5 554.1,560.5 566.3,560.5 578.6,560.5 590.8,560.5 603.0,554.9 615.2,560.5 627.4,560.5 639.6,560.5 651.8,560.5 664.0,553.4 676.2,560.5 688.4,551.0 700.6,560.5 712.8,550.6 725.0,556.5 737.3,560.5 749.5,560.5 761.7,560.5 773.9,560.5 786.1,560.5 798.3,560.5 810.5,559.2"/>
<polyline stroke="#c87010" points="200.1,560.5 212.3,560.5 224.5,560.5 236.7,560.5 249.0,560.5 261.2,560.5 273.4,560.5 285.6,560.5 297.8,560.5 310.0,560.5 322.2,560.5 334.4,560.5 346.6,559.2 358.8,555.6 371.0,551.2 383.2,555.6 395.4,549.0 407.6,559.2 419.9,560.5 432.1,560.5 444.3,560.5 456.5,560.5 468.7,560.5 480.9,560.5 493.1,560.5 505.3,560.5 517.5,560.5 529.7,554.8 541.9,552.2 554.1,560.5 566.3,560.5 578.6,560.5 590.8,560.5 603.0,560.5 615.2,553.9 627.4,536.6 639.6,553.9 651.8,560.5 664.0,560.5 676.2,557.1 688.4,558.7 700.6,560.5 712.8,560.5 725.0,558.0 737.3,560.5 749.5,560.5 761.7,560.5 773.9,560.5 786.1,560.5 798.3,555.9 810.5,554.6"/>
<polyline stroke="#c86010" points="200.1,560.5 212.3,560.5 224.5,560.5 236.7,560.5 249.0,560.5 261.2,560.5 273.4,560.5 285.6,560.5 297.8,560.5 310.0,560.5 322.2,560.5 334.4,560.5 346.6,560.5 358.8,560.5 371.0,560.5 383.2,560.5 395.4,560.5 407.6,560.5 419.9,560.5 432.1,560.5 444.3,557.4 456.5,560.5 468.7,551.9 480.9,560.5 493.1,560.5 505.3,560.5 517.5,560.5 529.7,560.5 541.9,560.5 554.1,560.5 566.3,560.5 578.6,560.5 590.8,560.5 603.0,560.5 615.2,560.5 627.4,560.5 639.6,552.2 651.8,560.5 664.0,560.5 676.2,560.5 688.4,545.9 700.6,510.1 712.8,548.6 725.0,560.5 737.3,555.2 749.5,538.0 761.7,537.3 773.9,535.3 786.1,559.2 798.3,554.6 810.5,554.9"/>
<polyline stroke="#c85020" points="200.1,560.5 212.3,560.5 224.5,560.5 236.7,560.5 249.0,560.5 261.2,560.5 273.4,560.5 285.6,560.5 297.8,560.5 310.0,560.5 322.2,560.5 334.4,560.5 346.6,560.5 358.8,560.5 371.0,560.5 383.2,560.5 395.4,560.5 407.6,560.5 419.9,560.5 432.1,560.5 444.3,560.5 456.5,560.5 468.7,560.5 480.9,560.5 493.1,552.0 505.3,560.5 517.5,556.3 529.7,559.1 541.9,560.5 554.1,560.5 566.3,560.5 578.6,560.5 590.8,560.5 603.0,551.3 615.2,560.5 627.4,560.5 639.6,560.5 651.8,560.5 664.0,560.5 676.2,560.5 688.4,560.5 700.6,560.5 712.8,560.5 725.0,560.5 737.3,560.5 749.5,559.4 761.7,557.8 773.9,554.9 786.1,560.5 798.3,560.5 810.5,560.5"/>
<polyline stroke="#b84020" points="200.1,560.5 212.3,560.5 224.5,560.5 236.7,560.5 249.0,560.5 261.2,560.5 273.4,560.5 285.6,560.5 297.8,560.5 310.0,560.5 322.2,560.5 334.4,560.5 346.6,560.5 358.8,560.5 371.0,560.5 383.2,560.5 395.4,560.5 407.6,560.5 419.9,560.5 432.1,560.5 444.3,560.5 456.5,560.5 468.7,560.5 480.9,560.5 493.1,550.9 505.3,560.5 517.5,560.5 529.7,560.5 541.9,560.5 554.1,560.5 566.3,559.8 578.6,552.1 590.8,555.3 603.0,557.8 615.2,555.8 627.4,559.6 639.6,558.2 651.8,560.5 664.0,559.6 676.2,560.5 688.4,560.5 700.6,560.5 712.8,555.8 725.0,560.5 737.3,550.2 749.5,558.9 761.7,560.5 773.9,553.7 786.1,560.5 798.3,559.3 810.5,560.5"/>
<polyline stroke="#a02020" points="200.1,560.5 212.3,560.5 224.5,560.5 236.7,560.5 249.0,560.5 261.2,560.5 273.4,560.5 285.6,560.5 297.8,560.5 310.0,560.5 322.2,560.5 334.4,560.5 346.6,560.5 358.8,560.5 371.0,560.5 383.2,560.5 395.4,560.5 407.6,560.5 419.9,560.5 432.1,560.5 444.3,560.5 456.5,560.5 468.7,560.5 480.9,560.5 493.1,557.2 505.3,560.5 517.5,560.5 529.7,560.5 541.9,553.1 554.1,560.5 566.3,560.5 578.6,559.5 590.8,558.1 603.0,559.3 615.2,560.5 627.4,560.5 639.6,550.2 651.8,549.9 664.0,535.3 676.2,522.3 688.4,543.3 700.6,556.5 712.8,560.5 725.0,560.5 737.3,560.5 749.5,560.5 761.7,556.8 773.9,560.5 786.1,560.5 798.3,556.9 810.5,560.5"/>
<polyline stroke="#0040e0" points="200.1,560.5 212.3,560.5 224.5,560.5 236.7,560.5 249.0,560.5 261.2,560.5 273.4,560.5 285.6,560.5 297.8,560.5 310.0,560.5 322.2,560.5 334.4,560.5 346.6,560.5 358.8,560.5 371.0,560.5 383.2,560.5 395.4,560.5 407.6,560.5 419.9,560.5 432.1,556.0 444.3,560.5 456.5,560.5 468.7,560.5 480.9,552.5 493.1,560.5 505.3,560.5 517.5,560.5 529.7,560.5 541.9,560.5 554.1,560.5 566.3,552.1 578.6,560.5 590.8,560.5 603.0,552.7 615.2,560.5 627.4,560.5 639.6,560.5 651.8,560.5 664.0,552.8 676.2,555.2 688.4,560.5 700.6,560.5 712.8,557.5 725.0,560.5 737.3,560.5 749.5,560.5 761.7,560.5 773.9,560.5 786.1,560.5 798.3,560.5 810.5,560.5"/>
<polyline stroke="#1080e0" points="200.1,560.5 212.3,560.5 224.5,560.5 236.7,560.5 249.0,560.5 261.2,560.5 273.4,560.5 285.6,560.5 297.8,560.5 310.0,560.5 322.2,560.5 334.4,560.5 346.6,560.5 358.8,558.2 371.0,531.3 383.2,552.9 395.4,556.5 407.6,556.5 419.9,559.2 432.1,560.5 444.3,555.9 456.5,560.5 468.7,554.2 480.9,559.0 493.1,560.5 505.3,559.4 517.5,553.4 529.7,560.5 541.9,557.6 554.1,560.5 566.3,554.2 578.6,560.5 590.8,547.2 603.0,526.0 615.2,548.6 627.4,560.5 639.6,560.5 651.8,560.5 664.0,560.5 676.2,558.1 688.4,551.6 700.6,559.6 712.8,560.5 725.0,543.3 737.3,534.0 749.5,553.9 761.7,551.0 773.9,555.2 786.1,551.6 798.3,560.5 810.5,560.5"/>
<polyline stroke="#10a0d0" points="200.1,560.5 212.3,560.5 224.5,560.5 236.7,560.5 249.0,560.5 261.2,560.5 273.4,560.5 285.6,560.5 297.8,560.5 310.0,560.5 322.2,557.3 334.4,557.3 346.6,547.6 358.8,522.1 371.0,549.4 383.2,556.5 395.4,557.8 407.6,559.2 419.9,560.5 432.1,560.5 444.3,560.5 456.5,560.5 468.7,560.5 480.9,560.5 493.1,553.9 505.3,530.7 517.5,553.9 529.7,551.5 541.9,560.5 554.1,560.5 566.3,554.5 578.6,560.5 590.8,560.5 603.0,556.4 615.2,560.5 627.4,554.3 639.6,560.5 651.8,560.5 664.0,560.5 676.2,560.5 688.4,556.4 700.6,560.5 712.8,560.5 725.0,560.5 737.3,557.7 749.5,550.6 761.7,560.5 773.9,560.5 786.1,560.5 798.3,560.5 810.5,560.5"/>
<polyline stroke="#10c0c0" points="200.1,560.5 212.3,560.5 224.5,560.5 236.7,560.5 249.0,560.5 261.2,560.5 273.4,560.5 285.6,560.5 297.8,560.5 310.0,560.5 322.2,560.5 334.4,560.5 346.6,560.5 358.8,560.5 371.0,555.2 383.2,549.0 395.4,558.5 407.6,560.5 419.9,560.5 432.1,560.5 444.3,560.5 456.5,560.5 468.7,560.5 480.9,560.5 493.1,560.5 505.3,560.5 517.5,560.5 529.7,540.9 541.9,494.5 554.1,555.2 566.3,560.5 578.6,560.5 590.8,560.5 603.0,560.5 615.2,558.9 627.4,560.5 639.6,560.5 651.8,560.5 664.0,560.5 676.2,552.4 688.4,560.5 700.6,560.5 712.8,560.5 725.0,560.5 737.3,560.5 749.5,560.5 761.7,556.9 773.9,560.5 786.1,559.2 798.3,518.1 810.5,551.2"/>
<polyline stroke="#10b090" points="200.1,560.5 212.3,560.5 224.5,560.5 236.7,560.5 249.0,560.5 261.2,560.5 273.4,560.5 285.6,560.5 297.8,560.5 310.0,560.5 322.2,560.5 334.4,560.5 346.6,560.5 358.8,560.5 371.0,560.5 383.2,560.5 395.4,560.5 407.6,560.5 419.9,560.5 432.1,558.3 444.3,560.5 456.5,560.5 468.7,560.5 480.9,560.5 493.1,560.5 505.3,560.5 517.5,556.7 529.7,551.2 541.9,509.3 554.1,477.8 566.3,385.6 578.6,294.1 590.8,312.0 603.0,556.5 615.2,560.5 627.4,560.5 639.6,560.5 651.8,560.5 664.0,544.6 676.2,507.5 688.4,547.2 700.6,560.5 712.8,560.5 725.0,560.5 737.3,560.5 749.5,560.5 761.7,560.5 773.9,551.8 786.1,558.5 798.3,560.5 810.5,560.5"/>
<polyline stroke="#10b070" points="200.1,560.5 212.3,560.5 224.5,560.5 236.7,560.5 249.0,560.5 261.2,560.5 273.4,560.5 285.6,560.5 297.8,560.5 310.0,560.5 322.2,560.5 334.4,560.5 346.6,560.5 358.8,560.5 371.0,560.5 383.2,560.5 395.4,560.5 407.6,560.5 419.9,560.5 432.1,559.3 444.3,552.2 456.5,560.5 468.7,560.5 480.9,560.5 493.1,560.5 505.3,558.0 517.5,555.5 529.7,560.5 541.9,554.4 554.1,556.7 566.3,526.0 578.6,516.4 590.8,549.9 603.0,551.9 615.2,560.5 627.4,560.5 639.6,555.6 651.8,560.5 664.0,560.5 676.2,531.3 688.4,504.8 700.6,498.5 712.8,552.5 725.0,560.5 737.3,560.5 749.5,558.5 761.7,560.5 773.9,560.5 786.1,560.5 798.3,560.5 810.5,560.5"/>
<polyline stroke="#10b040" points="200.1,560.5 212.3,560.5 224.5,560.5 236.7,560.5 249.0,560.5 261.2,560.5 273.4,560.5 285.6,560.5 297.8,560.5 310.0,560.5 322.2,560.5 334.4,560.5 346.6,560.5 358.8,560.5 371.0,560.5 383.2,560.5 395.4,560.5 407.6,560.5 419.9,560.5 432.1,560.5 444.3,559.7 456.5,560.5 468.7,560.5 480.9,560.5 493.1,560.5 505.3,560.5 517.5,560.5 529.7,560.5 541.9,560.5 554.1,560.5 566.3,560.5 578.6,558.0 590.8,560.5 603.0,560.5 615.2,560.5 627.4,560.5 639.6,560.5 651.8,560.5 664.0,560.5 676.2,560.5 688.4,560.5 700.6,556.7 712.8,560.5 725.0,560.5 737.3,560.5 749.5,560.5 761.7,560.5 773.9,560.5 786.1,554.1 798.3,560.5 810.5,560.5"/>
<polyline stroke="#10c030" points="200.1,560.5 212.3,560.5 224.5,560.5 236.7,560.5 249.0,560.5 261.2,560.5 273.4,560.5 285.6,560.5 297.8,560.5 310.0,560.5 322.2,560.5 334.4,560.5 346.6,560.5 358.8,560.5 371.0,560.5 383.2,560.5 395.4,560.5 407.6,560.5 419.9,560.5 432.1,560.5 444.3,560.5 456.5,560.5 468.7,553.2 480.9,560.5 493.1,560.5 505.3,560.5 517.5,560.5 529.7,560.5 541.9,550.7 554.1,556.0 566.3,560.5 578.6,560.5 590.8,560.5 603.0,560.5 615.2,531.3 627.4,531.6 639.6,528.7 651.8,506.6 664.0,546.5 676.2,556.5 688.4,560.5 700.6,560.5 712.8,560.5 725.0,560.5 737.3,557.8 749.5,528.7 761.7,492.5 773.9,540.6 786.1,559.2 798.3,557.4 810.5,560.5"/>
<polyline stroke="#20d010" points="200.1,560.5 212.3,560.5 224.5,560.5 236.7,560.5 249.0,560.5 261.2,560.5 273.4,560.5 285.6,560.5 297.8,560.5 310.0,560.5 322.2,560.5 334.4,560.5 346.6,560.5 358.8,560.5 371.0,560.5 383.2,560.5 395.4,560.5 407.6,560.5 419.9,560.5 432.1,557.6 444.3,559.0 456.5,560.5 468.7,560.5 480.9,560.5 493.1,560.5 505.3,560.5 517.5,557.0 529.7,560.5 541.9,557.2 554.1,560.5 566.3,560.5 578.6,560.5 590.8,557.5 603.0,560.5 615.2,550.8 627.4,550.0 639.6,560.5 651.8,560.5 664.0,559.3 676.2,560.5 688.4,558.0 700.6,560.5 712.8,560.5 725.0,550.3 737.3,560.5 749.5,560.5 761.7,556.5 773.9,536.1 786.1,492.5 798.3,531.3 810.5,558.5"/>
<polyline stroke="#d0c010" points="200.1,560.5 212.3,560.5 224.5,560.5 236.7,560.5 249.0,560.5 261.2,560.5 273.4,560.5 285.6,560.5 297.8,560.5 310.0,560.5 322.2,560.5 334.4,560.5 346.6,560.5 358.8,560.5 371.0,560.5 383.2,560.5 395.4,560.5 407.6,560.5 419.9,560.5 432.1,556.0 444.3,560.5 456.5,560.5 468.7,558.4 480.9,556.3 493.1,560.5 505.3,557.9 517.5,560.5 529.7,560.5 541.9,560.5 554.1,556.3 566.3,560.5 578.6,560.5 590.8,560.5 603.0,560.5 615.2,556.4 627.4,560.5 639.6,560.5 651.8,560.5 664.0,560.5 676.2,560.5 688.4,560.5 700.6,560.5 712.8,555.2 725.0,534.0 737.3,508.3 749.5,508.3 761.7,551.8 773.9,545.9 786.1,559.2 798.3,560.5 810.5,553.9"/>
</g>
<g class="k">
<polyline stroke="#e83c3c" stroke-width="3.2" points="200.1,316.7 212.3,320.9 224.5,325.7 236.7,322.5 249.0,316.7 261.2,318.1 273.4,325.1 285.6,322.9 297.8,314.8 310.0,319.5 322.2,325.1 334.4,326.5 346.6,320.9 358.8,324.7 371.0,334.3 383.2,336.7 395.4,332.8 407.6,337.4 419.9,343.7 432.1,343.5 444.3,339.0 456.5,339.0 468.7,340.6 480.9,338.2 493.1,327.5 505.3,325.3 517.5,330.4 529.7,329.8 541.9,323.1 554.1,323.1 566.3,330.0 578.6,330.0 590.8,323.7 603.0,329.0 615.2,333.4 627.4,328.4 639.6,323.3 651.8,320.2 664.0,322.5 676.2,316.7 688.4,311.1 700.6,315.7 712.8,319.6 725.0,317.8 737.3,315.7 749.5,321.4 761.7,329.3 773.9,328.4 786.1,322.5 798.3,322.5 810.5,326.1"/>
<polyline stroke="#0000ff" points="200.1,226.5 212.3,232.4 224.5,236.6 236.7,226.5 249.0,215.9 261.2,218.2 273.4,220.1 285.6,217.7 297.8,207.1 310.0,218.9 322.2,221.6 334.4,218.9 346.6,216.5 358.8,240.1 371.0,265.1 383.2,260.1 395.4,250.7 407.6,262.5 419.9,272.5 432.1,271.9 444.3,251.9 456.5,254.8 468.7,257.8 480.9,251.9 493.1,233.0 505.3,238.9 517.5,243.6 529.7,234.7 541.9,224.8 554.1,225.9 566.3,230.9 578.6,231.2 590.8,231.8 603.0,256.6 615.2,302.9 627.4,295.4 639.6,274.2 651.8,278.3 664.0,288.4 676.2,292.9 688.4,282.8 700.6,281.3 712.8,286.7 725.0,281.3 737.3,266.0 749.5,266.6 761.7,271.3 773.9,260.1 786.1,247.2 798.3,248.3 810.5,255.9"/>
<polyline stroke="#0000ff" points="200.1,560.5 212.3,560.5 224.5,560.5 236.7,560.5 249.0,560.5 261.2,560.5 273.4,560.5 285.6,560.5 297.8,560.5 310.0,560.5 322.2,560.5 334.4,560.5 346.6,560.5 358.8,560.5 371.0,560.5 383.2,560.5 395.4,560.5 407.6,560.5 419.9,560.5 432.1,560.5 444.3,560.5 456.5,560.5 468.7,560.5 480.9,560.5 493.1,560.5 505.3,560.5 517.5,560.5 529.7,560.5 541.9,560.5 554.1,560.5 566.3,560.5 578.6,559.4 590.8,523.4 603.0,519.4 615.2,525.1 627.4,531.6 639.6,558.5 651.8,560.5 664.0,560.5 676.2,560.5 688.4,559.8 700.6,557.8 712.8,560.2 725.0,560.5 737.3,560.5 749.5,560.5 761.7,560.5 773.9,560.5 786.1,560.5 798.3,560.5 810.5,560.5"/>
<polyline stroke="#ffffff" points="200.1,229.5 212.3,233.6 224.5,236.6 236.7,229.5 249.0,218.2 261.2,221.2 273.4,222.8 285.6,220.1 297.8,209.7 310.0,218.9 322.2,225.5 334.4,223.6 346.6,221.6 358.8,236.6 371.0,251.9 383.2,248.3 395.4,241.3 407.6,252.5 419.9,260.1 432.1,257.0 444.3,246.3 456.5,254.2 468.7,257.0 480.9,255.4 493.1,243.6 505.3,251.9 517.5,259.3 529.7,261.6 541.9,250.7 554.1,259.4 566.3,267.5 578.6,268.4 590.8,260.1 603.0,267.5 615.2,276.2 627.4,279.0 639.6,268.4 651.8,274.2 664.0,280.1 676.2,283.1 688.4,274.2 700.6,279.8 712.8,283.7 725.0,282.8 737.3,273.1 749.5,281.0 761.7,288.7 773.9,288.7 786.1,277.1 798.3,282.8 810.5,292.5"/>
<polyline stroke="#ffffff" points="200.1,560.5 212.3,560.5 224.5,560.5 236.7,560.5 249.0,560.5 261.2,560.5 273.4,560.5 285.6,560.5 297.8,560.5 310.0,560.5 322.2,560.2 334.4,560.1 346.6,559.8 358.8,558.9 371.0,558.5 383.2,559.4 395.4,559.7 407.6,560.1 419.9,560.1 432.1,558.5 444.3,557.2 456.5,555.2 468.7,555.2 480.9,557.6 493.1,554.8 505.3,549.5 517.5,553.9 529.7,554.8 541.9,552.9 554.1,551.6 566.3,547.2 578.6,545.5 590.8,549.2 603.0,554.8 615.2,556.5 627.4,555.7 639.6,556.1 651.8,552.9 664.0,552.9 676.2,555.7 688.4,552.0 700.6,545.5 712.8,554.9 725.0,556.1 737.3,556.1 749.5,554.3 761.7,555.5 773.9,556.5 786.1,556.1 798.3,555.5 810.5,556.5"/>
<polyline stroke="#00e000" points="200.1,230.0 212.3,234.2 224.5,238.1 236.7,224.8 249.0,213.0 261.2,215.3 273.4,217.7 285.6,209.5 297.8,202.4 310.0,214.2 322.2,220.1 334.4,211.0 346.6,203.6 358.8,223.6 371.0,251.9 383.2,250.7 395.4,248.3 407.6,244.8 419.9,256.6 432.1,247.2 444.3,230.7 456.5,233.0 468.7,234.2 480.9,235.4 493.1,217.7 505.3,225.9 517.5,231.8 529.7,233.0 541.9,221.6 554.1,227.1 566.3,238.9 578.6,234.7 590.8,223.6 603.0,236.6 615.2,248.3 627.4,237.7 639.6,218.9 651.8,248.3 664.0,267.2 676.2,261.3 688.4,244.2 700.6,251.9 712.8,248.9 725.0,253.0 737.3,247.2 749.5,236.6 761.7,240.1 773.9,261.6 786.1,246.0 798.3,248.3 810.5,254.2"/>
<polyline stroke="#00e000" points="200.1,560.5 212.3,560.5 224.5,560.5 236.7,560.5 249.0,560.5 261.2,560.5 273.4,560.5 285.6,560.5 297.8,560.5 310.0,560.5 322.2,560.5 334.4,560.5 346.6,560.5 358.8,560.5 371.0,560.5 383.2,560.5 395.4,560.5 407.6,560.5 419.9,560.5 432.1,560.5 444.3,560.5 456.5,560.5 468.7,560.5 480.9,560.5 493.1,560.5 505.3,560.5 517.5,560.5"/>
<polyline stroke="#00e000" points="541.9,559.2 554.1,534.4 566.3,540.9 578.6,558.9 590.8,547.2 603.0,548.3 615.2,559.4 627.4,560.2 639.6,560.2 651.8,544.6 664.0,556.5 676.2,559.4 688.4,553.9 700.6,559.8 712.8,556.5 725.0,558.9 737.3,557.8 749.5,553.5 761.7,554.3 773.9,556.5 786.1,559.8 798.3,558.9 810.5,558.9"/>
</g>
</g>
<path d="M163.5 30.5H810.5V560.5H163.5Z" fill="none" stroke="#fff" stroke-width="1"/>
<g stroke="#fff" stroke-width="1">
<line x1="805.0" y1="560.5" x2="810.5" y2="560.5"/>
<line x1="807.1" y1="547.5" x2="810.5" y2="547.5"/>
<line x1="805.0" y1="533.5" x2="810.5" y2="533.5"/>
<line x1="807.1" y1="520.5" x2="810.5" y2="520.5"/>
<line x1="805.0" y1="507.5" x2="810.5" y2="507.5"/>
<line x1="807.1" y1="494.5" x2="810.5" y2="494.5"/>
<line x1="805.0" y1="480.5" x2="810.5" y2="480.5"/>
<line x1="807.1" y1="467.5" x2="810.5" y2="467.5"/>
<line x1="805.0" y1="454.5" x2="810.5" y2="454.5"/>
<line x1="807.1" y1="441.5" x2="810.5" y2="441.5"/>
<line x1="805.0" y1="427.5" x2="810.5" y2="427.5"/>
<line x1="807.1" y1="414.5" x2="810.5" y2="414.5"/>
<line x1="805.0" y1="401.5" x2="810.5" y2="401.5"/>
<line x1="807.1" y1="388.5" x2="810.5" y2="388.5"/>
<line x1="805.0" y1="374.5" x2="810.5" y2="374.5"/>
<line x1="807.1" y1="361.5" x2="810.5" y2="361.5"/>
<line x1="805.0" y1="348.5" x2="810.5" y2="348.5"/>
<line x1="807.1" y1="335.5" x2="810.5" y2="335.5"/>
<line x1="805.0" y1="321.5" x2="810.5" y2="321.5"/>
<line x1="807.1" y1="308.5" x2="810.5" y2="308.5"/>
<line x1="805.0" y1="295.5" x2="810.5" y2="295.5"/>
<line x1="807.1" y1="282.5" x2="810.5" y2="282.5"/>
<line x1="805.0" y1="268.5" x2="810.5" y2="268.5"/>
<line x1="807.1" y1="255.5" x2="810.5" y2="255.5"/>
<line x1="805.0" y1="242.5" x2="810.5" y2="242.5"/>
<line x1="807.1" y1="229.5" x2="810.5" y2="229.5"/>
<line x1="805.0" y1="215.5" x2="810.5" y2="215.5"/>
<line x1="807.1" y1="202.5" x2="810.5" y2="202.5"/>
<line x1="805.0" y1="189.5" x2="810.5" y2="189.5"/>
<line x1="807.1" y1="176.5" x2="810.5" y2="176.5"/>
<line x1="805.0" y1="162.5" x2="810.5" y2="162.5"/>
<line x1="807.1" y1="149.5" x2="810.5" y2="149.5"/>
<line x1="805.0" y1="136.5" x2="810.5" y2="136.5"/>
<line x1="807.1" y1="123.5" x2="810.5" y2="123.5"/>
<line x1="805.0" y1="109.5" x2="810.5" y2="109.5"/>
<line x1="807.1" y1="96.5" x2="810.5" y2="96.5"/>
<line x1="805.0" y1="83.5" x2="810.5" y2="83.5"/>
<line x1="807.1" y1="70.5" x2="810.5" y2="70.5"/>
<line x1="805.0" y1="56.5" x2="810.5" y2="56.5"/>
<line x1="807.1" y1="43.5" x2="810.5" y2="43.5"/>
<line x1="805.0" y1="30.5" x2="810.5" y2="30.5"/>
</g>
<text class="tk" x="153.6" y="563.3" text-anchor="end">-10</text>
<text class="tk" x="153.6" y="504.4" text-anchor="end">-5</text>
<text class="tk" x="153.6" y="445.5" text-anchor="end">0</text>
<text class="tk" x="153.6" y="386.6" text-anchor="end">5</text>
<text class="tk" x="153.6" y="327.7" text-anchor="end">10</text>
<text class="tk" x="153.6" y="268.8" text-anchor="end">15</text>
<text class="tk" x="153.6" y="209.9" text-anchor="end">20</text>
<text class="tk" x="153.6" y="151.0" text-anchor="end">25</text>
<text class="tk" x="153.6" y="92.1" text-anchor="end">30</text>
<text class="tk" x="153.6" y="33.2" text-anchor="end">35</text>
<text class="tk" x="816.8" y="563.4">0</text>
<text class="tk" x="816.8" y="430.9">10</text>
<text class="tk" x="816.8" y="298.3">20</text>
<text class="tk" x="816.8" y="165.8">30</text>
<text class="tk" x="816.8" y="33.3">40</text>
<text class="tk" x="162.2" y="576.9" text-anchor="middle">01Sep 00z</text>
<text class="tk" x="259.9" y="576.9" text-anchor="middle">03Sep 00z</text>
<text class="tk" x="357.5" y="576.9" text-anchor="middle">05Sep 00z</text>
<text class="tk" x="455.2" y="576.9" text-anchor="middle">07Sep 00z</text>
<text class="tk" x="552.8" y="576.9" text-anchor="middle">09Sep 00z</text>
<text class="tk" x="650.5" y="576.9" text-anchor="middle">11Sep 00z</text>
<text class="tk" x="748.2" y="576.9" text-anchor="middle">13Sep 00z</text>
<text class="ay" x="486.5" y="592.8" text-anchor="middle">Date (UTC)</text>
<text class="ay" transform="translate(135.2 296) rotate(-90)" text-anchor="middle">850 hPa Temp. (°C)</text>
<text class="ay" transform="translate(843 296) rotate(-90)" text-anchor="middle">Niederschlag (mm)</text>
<text class="ttl" x="436" y="17" text-anchor="middle" xml:space="preserve">Dunavarsány  (HU)  850 hPa Temp. &amp; Niederschlag | Sun, 01Sep2024 12Z</text>
<text class="ft" x="120" y="604">GFS Ensemble, 47.5N, 19E</text>
<text class="ft" x="794" y="604" text-anchor="end">Wetterzentrale.de</text>
<line x1="0.0" y1="40.8" x2="8.0" y2="40.8" stroke="#0030d0" stroke-width="1.8"/>
<text class="lg" x="8.1" y="43.3">P1</text>
<line x1="53.2" y1="40.8" x2="63.8" y2="40.8" stroke="#0050d8" stroke-width="1.8"/>
<text class="lg" x="64.3" y="43.3">P2</text>
<line x1="0.0" y1="55.8" x2="8.0" y2="55.8" stroke="#0870d0" stroke-width="1.8"/>
<text class="lg" x="8.1" y="58.3">P3</text>
<line x1="53.2" y1="55.8" x2="63.8" y2="55.8" stroke="#10a0d0" stroke-width="1.8"/>
<text class="lg" x="64.3" y="58.3">P4</text>
<line x1="0.0" y1="70.8" x2="8.0" y2="70.8" stroke="#10b0c0" stroke-width="1.8"/>
<text class="lg" x="8.1" y="73.3">P5</text>
<line x1="53.2" y1="70.8" x2="63.8" y2="70.8" stroke="#10b080" stroke-width="1.8"/>
<text class="lg" x="64.3" y="73.3">P6</text>
<line x1="0.0" y1="85.8" x2="8.0" y2="85.8" stroke="#10b060" stroke-width="1.8"/>
<text class="lg" x="8.1" y="88.3">P7</text>
<line x1="53.2" y1="85.8" x2="63.8" y2="85.8" stroke="#10c040" stroke-width="1.8"/>
<text class="lg" x="64.3" y="88.3">P8</text>
<line x1="0.0" y1="100.8" x2="8.0" y2="100.8" stroke="#10c820" stroke-width="1.8"/>
<text class="lg" x="8.1" y="103.3">P9</text>
<line x1="53.2" y1="100.8" x2="63.8" y2="100.8" stroke="#10d810" stroke-width="1.8"/>
<text class="lg" x="64.3" y="103.3">P10</text>
<line x1="0.0" y1="115.8" x2="8.0" y2="115.8" stroke="#d0d010" stroke-width="1.8"/>
<text class="lg" x="8.1" y="118.3">P11</text>
<line x1="53.2" y1="115.8" x2="63.8" y2="115.8" stroke="#d0b010" stroke-width="1.8"/>
<text class="lg" x="64.3" y="118.3">P12</text>
<line x1="0.0" y1="130.8" x2="8.0" y2="130.8" stroke="#d0a010" stroke-width="1.8"/>
<text class="lg" x="8.1" y="133.3">P13</text>
<line x1="53.2" y1="130.8" x2="63.8" y2="130.8" stroke="#d09010" stroke-width="1.8"/>
<text class="lg" x="64.3" y="133.3">P14</text>
<line x1="0.0" y1="145.8" x2="8.0" y2="145.8" stroke="#d08010" stroke-width="1.8"/>
<text class="lg" x="8.1" y="148.3">P15</text>
<line x1="53.2" y1="145.8" x2="63.8" y2="145.8" stroke="#c87010" stroke-width="1.8"/>
<text class="lg" x="64.3" y="148.3">P16</text>
<line x1="0.0" y1="160.8" x2="8.0" y2="160.8" stroke="#c86010" stroke-width="1.8"/>
<text class="lg" x="8.1" y="163.3">P17</text>
<line x1="53.2" y1="160.8" x2="63.8" y2="160.8" stroke="#c85020" stroke-width="1.8"/>
<text class="lg" x="64.3" y="163.3">P18</text>
<line x1="0.0" y1="175.8" x2="8.0" y2="175.8" stroke="#b84020" stroke-width="1.8"/>
<text class="lg" x="8.1" y="178.3">P19</text>
<line x1="53.2" y1="175.8" x2="63.8" y2="175.8" stroke="#a02020" stroke-width="1.8"/>
<text class="lg" x="64.3" y="178.3">P20</text>
<line x1="0.0" y1="190.8" x2="8.0" y2="190.8" stroke="#0040e0" stroke-width="1.8"/>
<text class="lg" x="8.1" y="193.3">P21</text>
<line x1="53.2" y1="190.8" x2="63.8" y2="190.8" stroke="#1080e0" stroke-width="1.8"/>
<text class="lg" x="64.3" y="193.3">P22</text>
<line x1="0.0" y1="205.8" x2="8.0" y2="205.8" stroke="#10a0d0" stroke-width="1.8"/>
<text class="lg" x="8.1" y="208.3">P23</text>
<line x1="53.2" y1="205.8" x2="63.8" y2="205.8" stroke="#10c0c0" stroke-width="1.8"/>
<text class="lg" x="64.3" y="208.3">P24</text>
<line x1="0.0" y1="220.8" x2="8.0" y2="220.8" stroke="#10b090" stroke-width="1.8"/>
<text class="lg" x="8.1" y="223.3">P25</text>
<line x1="53.2" y1="220.8" x2="63.8" y2="220.8" stroke="#10b070" stroke-width="1.8"/>
<text class="lg" x="64.3" y="223.3">P26</text>
<line x1="0.0" y1="235.8" x2="8.0" y2="235.8" stroke="#10b040" stroke-width="1.8"/>
<text class="lg" x="8.1" y="238.3">P27</text>
<line x1="53.2" y1="235.8" x2="63.8" y2="235.8" stroke="#10c030" stroke-width="1.8"/>
<text class="lg" x="64.3" y="238.3">P28</text>
<line x1="0.0" y1="250.8" x2="8.0" y2="250.8" stroke="#20d010" stroke-width="1.8"/>
<text class="lg" x="8.1" y="253.3">P29</text>
<line x1="53.2" y1="250.8" x2="63.8" y2="250.8" stroke="#d0c010" stroke-width="1.8"/>
<text class="lg" x="64.3" y="253.3">P30</text>
<line x1="0" y1="266.4" x2="8" y2="266.4" stroke="#0000ff" stroke-width="2.1"/>
<text class="lg" x="8.1" y="268.6">Control</text>
<line x1="53.2" y1="266.4" x2="63.8" y2="266.4" stroke="#fff" stroke-width="2.3"/>
<text class="lg" x="64.3" y="268.6">Ens. mean</text>
<line x1="53.2" y1="293.1" x2="63.8" y2="293.1" stroke="#ff4040" stroke-width="2.3"/>
<text class="lg" x="64.3" y="296.7">1991-2020</text>
<text class="lg" x="64.3" y="306.6">mean</text>
<line x1="0" y1="307" x2="8" y2="307" stroke="#00ff00" stroke-width="2.1"/>
<text class="lg" x="8.1" y="308.7">Oper</text>
</svg></body></html>
